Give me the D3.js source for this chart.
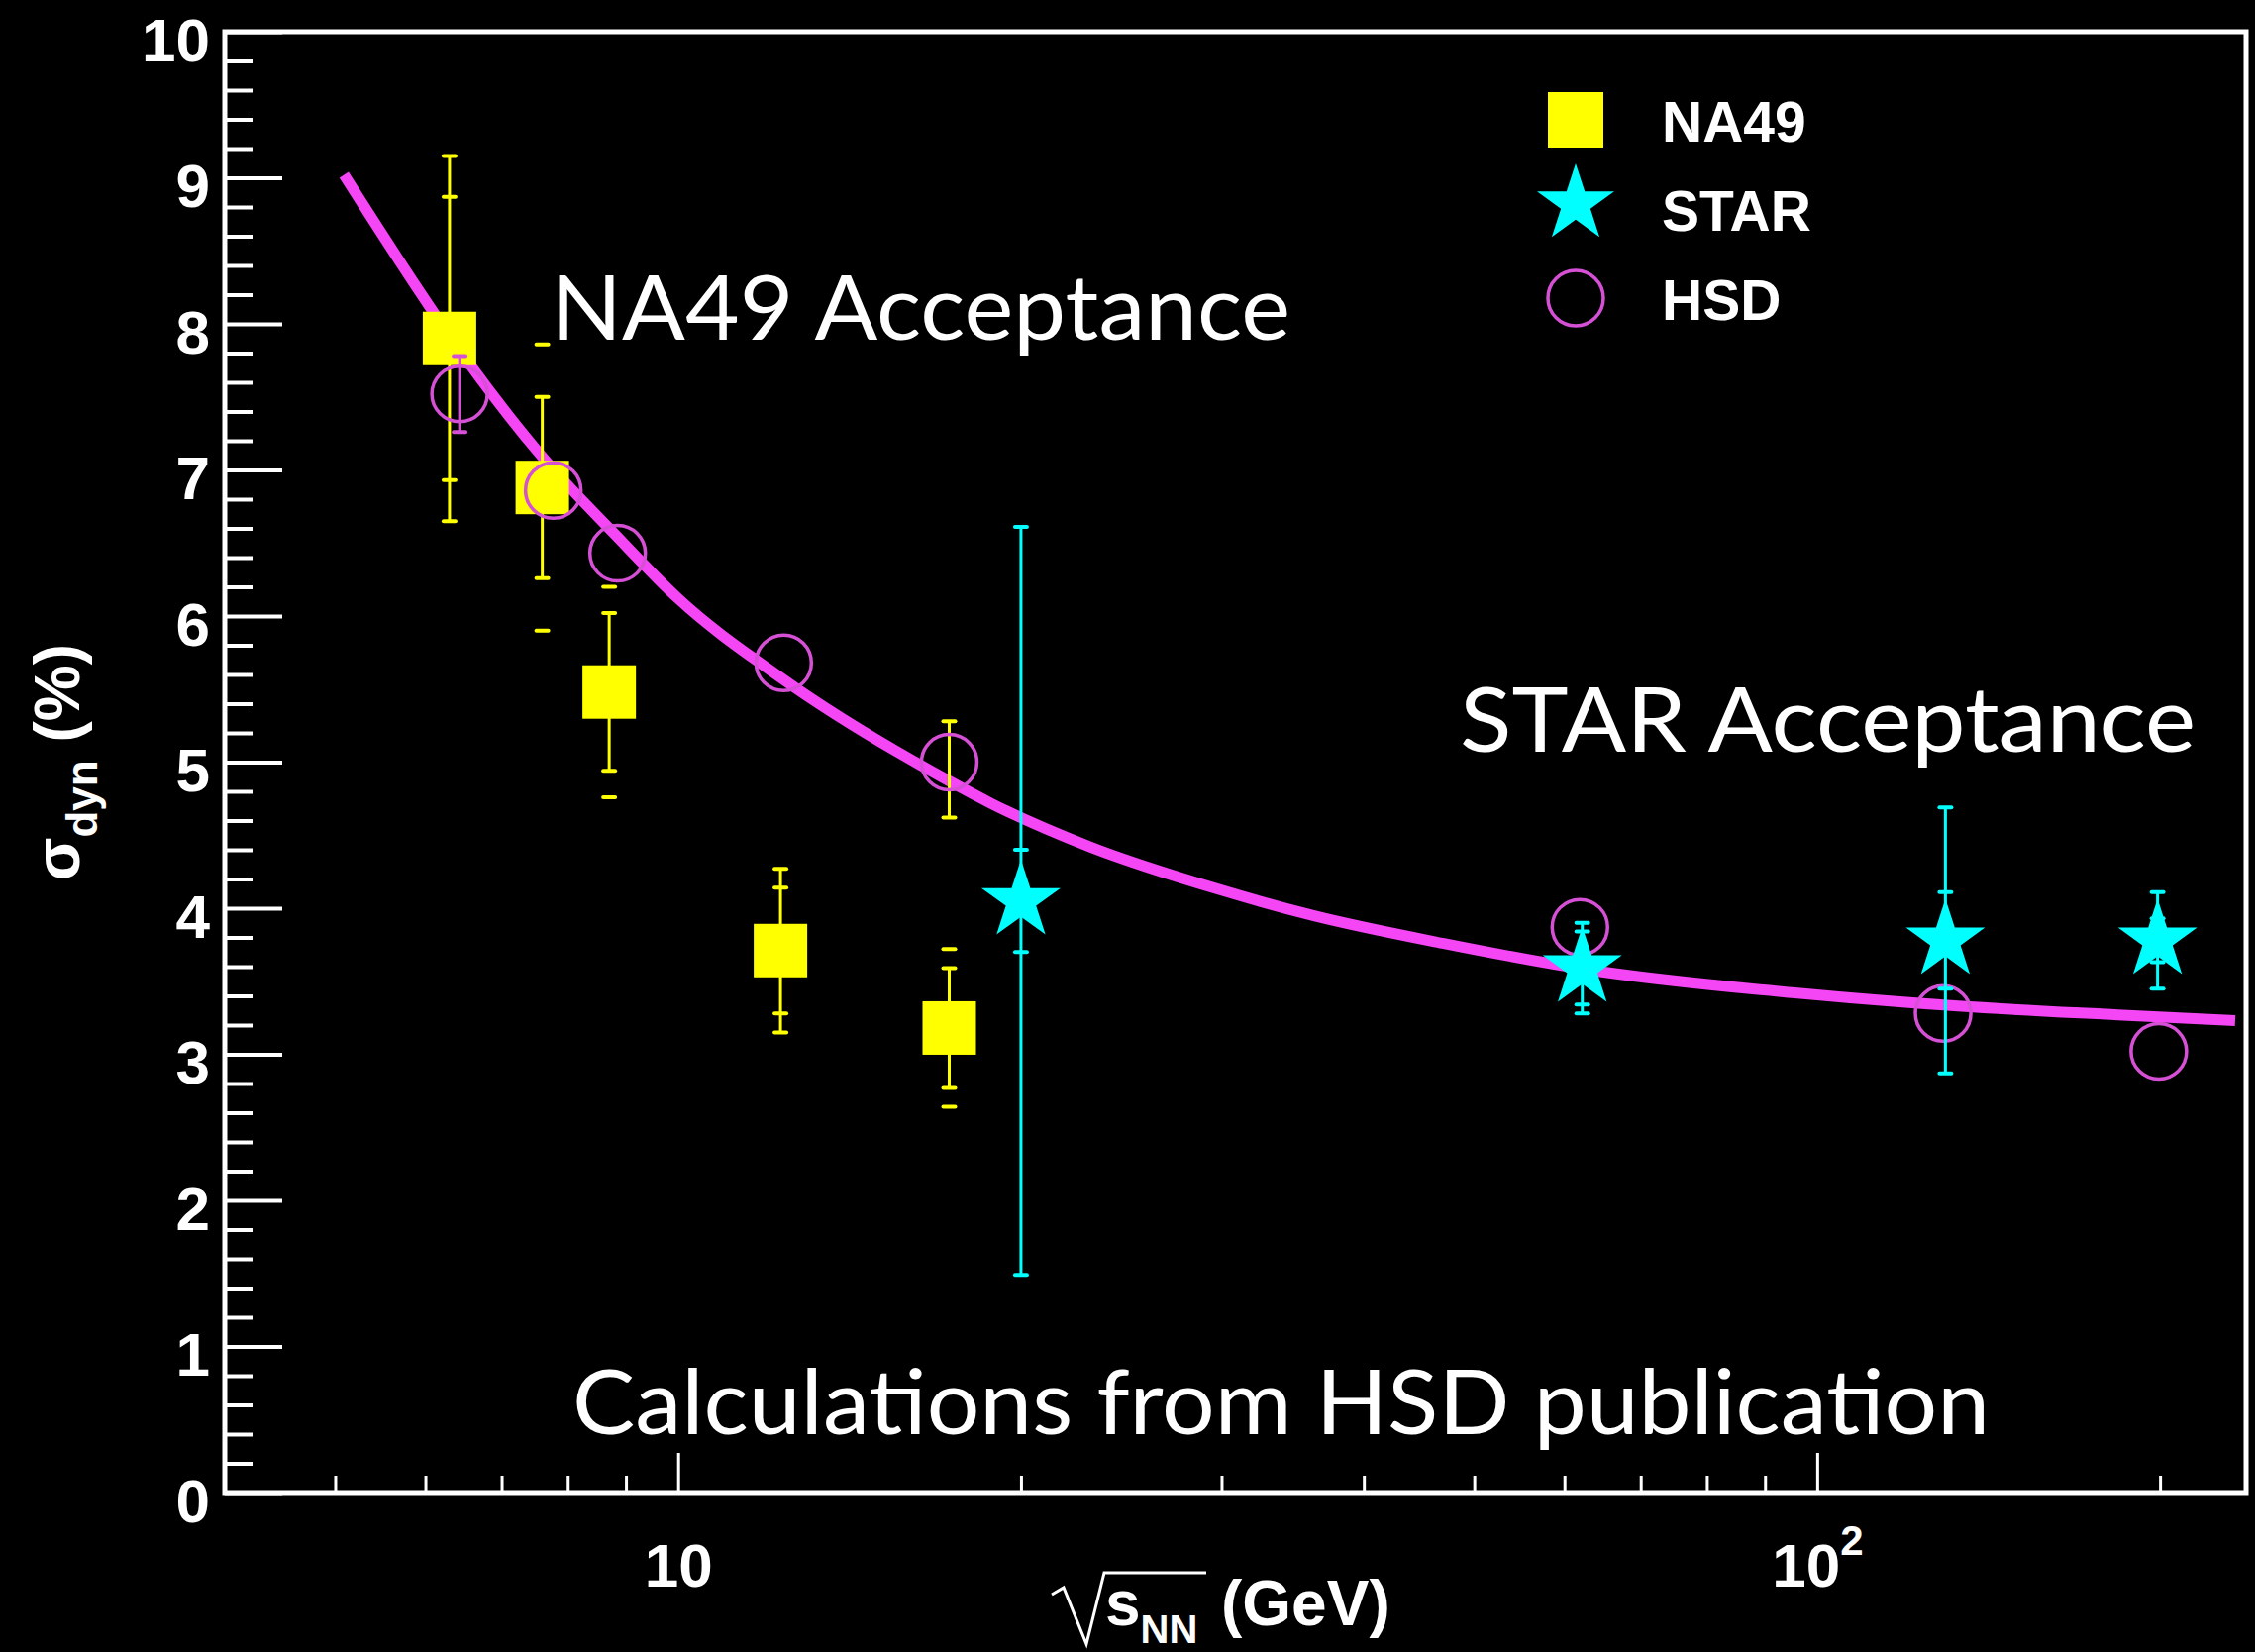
<!DOCTYPE html>
<html>
<head>
<meta charset="utf-8">
<script src="https://d3js.org/d3.v7.min.js"></script>
<style>
* { box-sizing:border-box; }
body { margin:0; background:#000; }
svg { display:block; }
.lbl { font-family:'Liberation Sans', Arial, Helvetica, sans-serif; font-weight:bold; fill:#fff; }
.note { font-family:'Comic Sans MS', Lato, sans-serif; fill:#fff; }
</style>
</head>
<body>
<div id="chart"></div>
<script>
// NA49 points: sqrt(s_NN) in GeV, sigma_dyn in %
var na49E = [6.3, 7.6, 8.7, 12.3, 17.3];
var na49V = [7.90, 6.88, 5.48, 3.71, 3.18];
var na49Err = [1.25, 0.62, 0.54, 0.56, 0.41];   // bar with caps
var na49Sys = [0.97, 0.98, 0.72, 0.43, 0.54];   // caps only
// the lone yellow bar sitting on the 17.3 GeV HSD circle
var na49ExtraE = [17.3];
var na49ExtraV = [4.95];
var na49ExtraErr = [0.33];

// STAR points
var starE = [20.0, 62.2, 129.6, 199];
var starV = [4.05, 3.59, 3.78, 3.78];
var starErr = [2.56, 0.31, 0.91, 0.33];
var starSys = [0.35, 0.25, 0.33, 0.15];

// HSD calculations
var hsdE = [6.43, 7.77, 8.85, 12.38, 17.3, 61.9, 129, 199.5];
var hsdV = [7.52, 6.86, 6.43, 5.68, 5.00, 3.87, 3.28, 3.02];
var hsdErr = [0.26, 0, 0, 0, 0, 0, 0, 0];

// magenta curve
var curveE = [5.09, 6.05, 6.3, 7.6, 8.8, 10, 12.3, 17.3, 18.8, 23.0, 29.8, 36.1, 46.9, 62.8, 95.6, 132.9, 183.6, 232.8];
var curveV = [9.02, 8.12, 7.92, 7.09, 6.56, 6.12, 5.58, 4.87, 4.72, 4.42, 4.13, 3.95, 3.76, 3.58, 3.42, 3.33, 3.27, 3.23];

// axes
var xDomain = [4, 238];
var yDomain = [0, 10];
var yMajor = [0, 1, 2, 3, 4, 5, 6, 7, 8, 9, 10];
var xMajor = [10, 100];
var xMinor = [5, 6, 7, 8, 9, 20, 30, 40, 50, 60, 70, 80, 90, 200];
var legendNames = ["NA49", "STAR", "HSD"];

var W = 2277, H = 1668;
var margin = {top: 32, right: 9, bottom: 161, left: 227};
var width = W - margin.left - margin.right,
    height = H - margin.top - margin.bottom;

var yellow = "#ffff00", cyan = "#00ffff", curveCol = "#f446f4", hsdCol = "#d650d6";

var svg = d3.select("#chart").append("svg")
    .attr("width", W)
    .attr("height", H)
    .style("background", "#000");

var g = svg.append("g")
    .attr("transform", "translate(" + margin.left + "," + margin.top + ")");

var x = d3.scaleLog().domain(xDomain).range([0, width]);
var y = d3.scaleLinear().domain(yDomain).range([height, 0]);

// y axis: minor then major ticks (pointing inward)
var yMinor = d3.range(0, 10.001, 0.2).filter(function(v) { return Math.abs(v - Math.round(v)) > 0.01; });
g.append("g")
    .call(d3.axisLeft(y).tickValues(yMinor).tickSize(-28).tickFormat(""))
    .call(function(a) { a.select(".domain").remove(); a.selectAll("line").attr("stroke", "#fff").attr("stroke-width", 4); });

g.append("g")
    .call(d3.axisLeft(y).tickValues(yMajor).tickSize(-58).tickPadding(15).tickFormat(d3.format("d")))
    .call(function(a) {
      a.select(".domain").remove();
      a.selectAll("line").attr("stroke", "#fff").attr("stroke-width", 4);
      a.selectAll("text").attr("class", "lbl").attr("fill", "#fff")
        .style("font-size", "62px").attr("dy", "0.47em");
    });

// x axis
g.append("g")
    .attr("transform", "translate(0," + height + ")")
    .call(d3.axisBottom(x).tickValues(xMinor).tickSize(-17).tickFormat(""))
    .call(function(a) { a.select(".domain").remove(); a.selectAll("line").attr("stroke", "#fff").attr("stroke-width", 3); });

g.append("g")
    .attr("transform", "translate(0," + height + ")")
    .call(d3.axisBottom(x).tickValues(xMajor).tickSize(-40).tickPadding(51).tickFormat(function() { return "10"; }))
    .call(function(a) {
      a.select(".domain").remove();
      a.selectAll("line").attr("stroke", "#fff").attr("stroke-width", 3);
      a.selectAll("text").attr("class", "lbl").attr("fill", "#fff").style("font-size", "62px");
      a.selectAll(".tick").filter(function(d) { return d === 100; }).select("text")
        .append("tspan").attr("dy", "-32").style("font-size", "42px").text("2");
    });

// frame
g.append("rect")
    .attr("x", 0).attr("y", 0)
    .attr("width", width).attr("height", height)
    .attr("fill", "none").attr("stroke", "#fff").attr("stroke-width", 5);

// curve
var line = d3.line()
    .x(function(d) { return x(d[0]); })
    .y(function(d) { return y(d[1]); })
    .curve(d3.curveMonotoneX);

g.append("path")
    .datum(curveE.map(function(e, i) { return [e, curveV[i]]; }))
    .attr("d", line)
    .attr("fill", "none")
    .attr("stroke", curveCol)
    .attr("stroke-width", 11);

// error bar helper: vertical bar with caps, plus extra caps-only marks
function errBar(sel, e, v, err, sys, col) {
  var cx = x(e);
  if (err > 0) {
    sel.append("line").attr("x1", cx).attr("x2", cx)
      .attr("y1", y(v + err)).attr("y2", y(v - err))
      .attr("stroke", col).attr("stroke-width", 3);
  }
  [err, sys].forEach(function(dv) {
    if (!(dv > 0)) return;
    [v + dv, v - dv].forEach(function(yy) {
      sel.append("line").attr("x1", cx - 6).attr("x2", cx + 6)
        .attr("y1", y(yy)).attr("y2", y(yy))
        .attr("stroke", col).attr("stroke-width", 4)
        .attr("stroke-linecap", "round");
    });
  });
}

// NA49
var na49G = g.append("g");
na49E.forEach(function(e, i) { errBar(na49G, e, na49V[i], na49Err[i], na49Sys[i], yellow); });
na49ExtraE.forEach(function(e, i) { errBar(na49G, e, na49ExtraV[i], na49ExtraErr[i], 0, yellow); });
na49G.selectAll("rect.na49")
    .data(na49E)
    .enter().append("rect")
    .attr("class", "na49")
    .attr("x", function(d) { return x(d) - 27; })
    .attr("y", function(d, i) { return y(na49V[i]) - 27; })
    .attr("width", 54).attr("height", 54)
    .attr("fill", yellow);

// HSD
var hsdG = g.append("g");
hsdE.forEach(function(e, i) { errBar(hsdG, e, hsdV[i], hsdErr[i], 0, hsdCol); });
hsdG.selectAll("circle")
    .data(hsdE)
    .enter().append("circle")
    .attr("cx", function(d) { return x(d); })
    .attr("cy", function(d, i) { return y(hsdV[i]); })
    .attr("r", 28)
    .attr("fill", "none")
    .attr("stroke", hsdCol)
    .attr("stroke-width", 3.5);

// STAR
var starSym = d3.symbol().type(d3.symbolStar).size(42 * 42 / 0.8908130915292852);
var starG = g.append("g");
starE.forEach(function(e, i) { errBar(starG, e, starV[i], starErr[i], starSys[i], cyan); });
starG.selectAll("path.star")
    .data(starE)
    .enter().append("path")
    .attr("class", "star")
    .attr("transform", function(d, i) { return "translate(" + x(d) + "," + y(starV[i]) + ")"; })
    .attr("d", starSym)
    .attr("fill", cyan);

// legend
var leg = svg.append("g").attr("transform", "translate(1591,0)");
leg.append("rect").attr("x", -28).attr("y", 93).attr("width", 56).attr("height", 56).attr("fill", yellow);
leg.append("path").attr("transform", "translate(0,206)")
    .attr("d", d3.symbol().type(d3.symbolStar).size(41 * 41 / 0.8908130915292852)).attr("fill", cyan);
leg.append("circle").attr("cx", 0).attr("cy", 301).attr("r", 28)
    .attr("fill", "none").attr("stroke", hsdCol).attr("stroke-width", 3.5);
leg.selectAll("text.leg")
    .data(legendNames)
    .enter().append("text")
    .attr("class", "lbl")
    .attr("x", 87)
    .attr("y", function(d, i) { return 143 + i * 90; })
    .style("font-size", "57px")
    .text(function(d) { return d; });

// annotations
var notes = [
  {t: "NA49 Acceptance", x: 556, y: 343, len: 747},
  {t: "STAR Acceptance", x: 1474, y: 759, len: 743},
  {t: "Calculations from HSD publication", x: 578, y: 1448, len: 1431}
];
svg.selectAll("text.note")
    .data(notes)
    .enter().append("text")
    .attr("class", "note")
    .attr("x", function(d) { return d.x; })
    .attr("y", function(d) { return d.y; })
    .attr("textLength", function(d) { return d.len; })
    .attr("lengthAdjust", "spacingAndGlyphs")
    .style("font-size", "92px")
    .text(function(d) { return d.t; });

// y title: sigma_dyn (%)
var yt = svg.append("text")
    .attr("class", "lbl")
    .attr("transform", "translate(80,650) rotate(-90)")
    .attr("text-anchor", "end")
    .style("font-size", "64px");
yt.append("tspan").text("\u03C3");
yt.append("tspan").attr("dy", 18).style("font-size", "44px").text("dyn");
yt.append("tspan").attr("dy", -18).text(" (%)");

// x title: sqrt(s_NN) (GeV)
svg.append("path")
    .attr("d", "M1062,1610 L1074,1603 L1097,1660 L1115,1588 L1218,1588")
    .attr("fill", "none").attr("stroke", "#fff").attr("stroke-width", 3);
var xt = svg.append("text")
    .attr("class", "lbl")
    .attr("x", 1116).attr("y", 1641)
    .style("font-size", "64px");
xt.append("tspan").text("s");
xt.append("tspan").attr("dy", 18).style("font-size", "40px").text("NN");
xt.append("tspan").attr("x", 1233).attr("dy", -18).text("(GeV)");
</script>
</body>
</html>
